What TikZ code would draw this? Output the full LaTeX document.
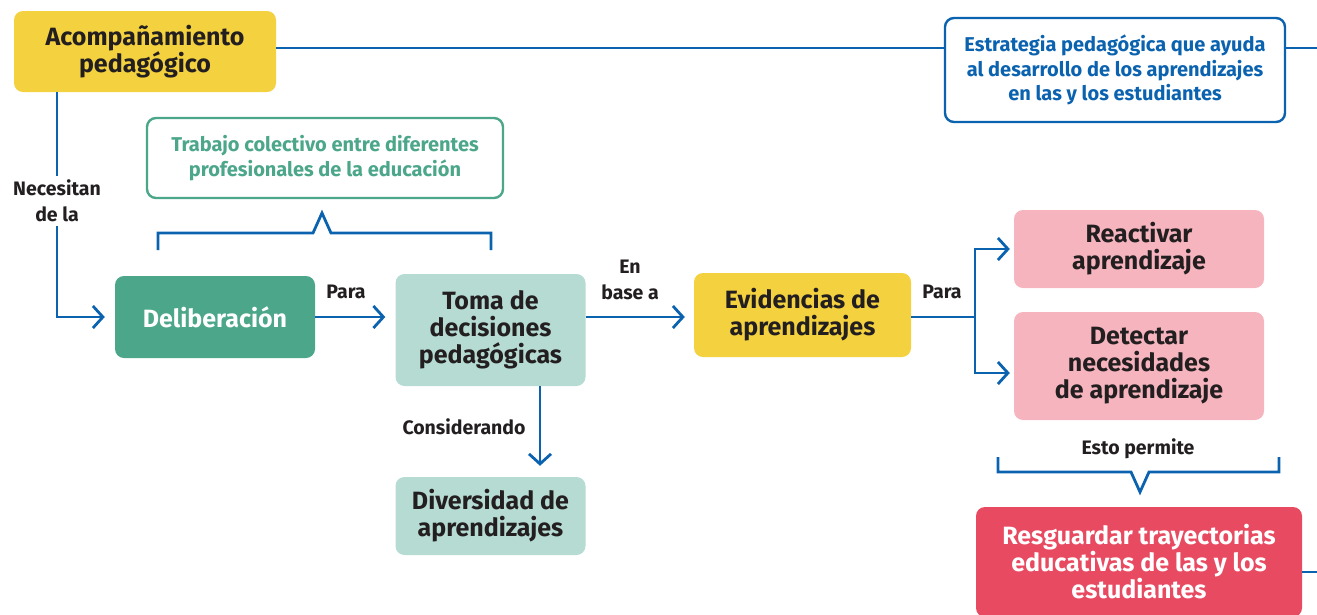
\documentclass[tikz,border=0pt]{standalone}
\usepackage{fontspec}
\setmainfont{Fira Sans}
\usetikzlibrary{arrows.meta}
\definecolor{azul}{HTML}{0B63B0}
\definecolor{amarillo}{HTML}{F3D13F}
\definecolor{verde}{HTML}{4BA68A}
\definecolor{menta}{HTML}{B6DBD3}
\definecolor{rosa}{HTML}{F5B4BE}
\definecolor{rojo}{HTML}{E84A62}
\definecolor{tinta}{HTML}{231F20}
\begin{document}
\begin{tikzpicture}[x=1pt, y=-1pt,
  caja/.style={rounded corners=9pt, align=center, inner sep=0pt, text=tinta,
    font=\bfseries\fontsize{25}{27}\selectfont},
  nota/.style={rounded corners=9pt, draw=#1, text=#1, line width=2.4pt, fill=white,
    align=center, inner sep=0pt, font=\bfseries\fontsize{20}{24.5}\selectfont},
  etiqueta/.style={align=center, text=tinta, font=\bfseries\fontsize{19.5}{26}\selectfont},
  linea/.style={azul, line width=2.8pt},
  flecha/.style={linea, -{Straight Barb[length=10pt,width=22pt]}}]
\useasboundingbox (0,0) rectangle (1317,614);
% cajas
\node[caja, fill=amarillo, minimum width=262, minimum height=81] (acomp) at (145,51.5)
  {Acompañamiento\\pedagógico};
\node[nota=azul, minimum width=340, minimum height=104] (estrategia) at (1115,70)
  {Estrategia pedagógica que ayuda\\al desarrollo de los aprendizajes\\en las y los estudiantes};
\node[nota=verde, minimum width=356, minimum height=80] (trabajo) at (325,158)
  {Trabajo colectivo entre diferentes\\profesionales de la educación};
\node[caja, fill=verde, text=white, minimum width=200, minimum height=82] (delib) at (215,317)
  {Deliberación};
\node[caja, fill=menta, minimum width=190, minimum height=112] (toma) at (490.5,330)
  {Toma de\\decisiones\\pedagógicas};
\node[caja, fill=menta, minimum width=190, minimum height=78] (diversidad) at (490.5,516)
  {Diversidad de\\aprendizajes};
\node[caja, fill=amarillo, minimum width=217, minimum height=84] (evid) at (802.5,315)
  {Evidencias de\\aprendizajes};
\node[caja, fill=rosa, minimum width=250, minimum height=78] (react) at (1139,249)
  {Reactivar\\aprendizaje};
\node[caja, fill=rosa, minimum width=250, minimum height=108] (detect) at (1139,366)
  {Detectar\\necesidades\\de aprendizaje};
\node[caja, fill=rojo, text=white, minimum width=326, minimum height=110] (resg) at (1139,562)
  {Resguardar trayectorias\\educativas de las y los\\estudiantes};
% lineas
\coordinate (bordeA) at (1317,48);
\coordinate (bordeB) at (1317,572);
\coordinate (codo) at (57,317);
\coordinate (rama) at (975,317);
\draw[linea] (acomp.east |- bordeA) -- (estrategia.west |- bordeA);
\draw[linea] (estrategia.east |- bordeA) -- (bordeA);
\draw[linea] (resg.east |- bordeB) -- (bordeB);
\draw[flecha, shorten >=10pt] (acomp.south -| codo) -- (codo) -- (delib.west);
\draw[flecha, shorten >=10pt] (delib.east) -- (toma.west |- delib);
\draw[flecha, shorten >=9pt] (toma.east |- delib) -- (evid.west |- delib);
\draw[linea] (evid.east |- rama) -- (rama);
\draw[flecha, shorten >=4pt] (rama) |- (react.west);
\draw[flecha, shorten >=4pt] (rama) |- ([yshift=-7pt]detect.west);
\draw[flecha, shorten >=11pt] ([xshift=49.5pt]toma.south) -- ([xshift=49.5pt]diversidad.north);
% llaves
\draw[linea, line join=miter] (158,250) -- (158,233) -- (313,233) -- (322,213) -- (331,233)
  -- (491,233) -- (491,250);
\draw[linea, line join=miter] (998,457) -- (998,472) -- (1131,472) -- (1140,492) -- (1149,472)
  -- (1279,472) -- (1279,457);
% etiquetas
\node[etiqueta, fill=white, inner sep=4pt] (necesitan) at (57,201) {Necesitan\\de la};
\node[etiqueta] (para1) at (346,292) {Para};
\node[etiqueta] (base) at (630,280) {En\\base a};
\node[etiqueta] (para2) at (942,292) {Para};
\node[etiqueta] (considerando) at (464,427) {Considerando};
\node[etiqueta] (permite) at (1138,449) {Esto permite};
\end{tikzpicture}
\end{document}
